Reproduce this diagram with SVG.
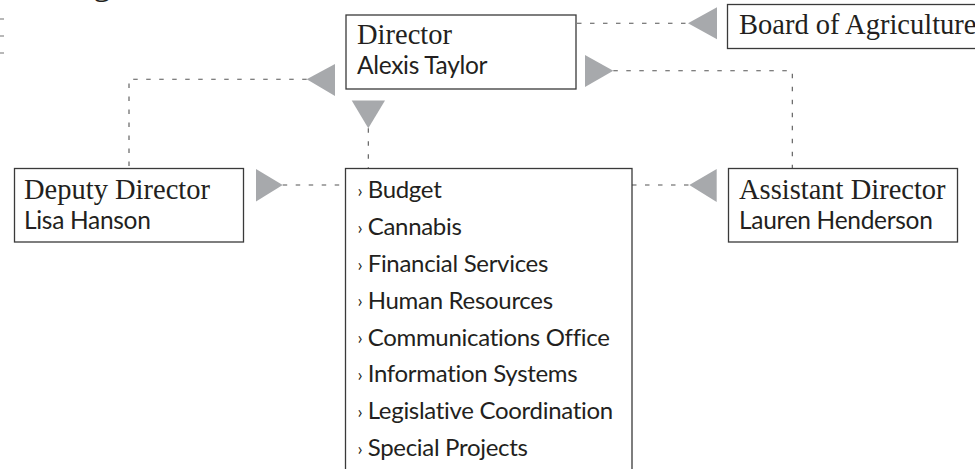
<svg xmlns="http://www.w3.org/2000/svg" width="975" height="469" viewBox="0 0 975 469">
<style>
.box{fill:#fff;stroke:#3a3a3a;stroke-width:1.3}
.title{font-family:"Liberation Serif","Times New Roman",serif;font-size:28.5px;fill:#231f20}
.name{font-family:Lato,"Liberation Sans",sans-serif;font-size:24.5px;letter-spacing:-0.3px;fill:#231f20}
.item{font-family:Lato,"Liberation Sans",sans-serif;font-size:24px;letter-spacing:-0.3px;fill:#231f20}
.chev{font-family:Lato,"Liberation Sans",sans-serif;font-size:18px;fill:#231f20}
.dot{fill:none;stroke:#555;stroke-width:1.1;stroke-dasharray:4.5 8.5}
.tri{fill:#a7a9ac}
.tick{stroke:#888;stroke-width:1.2}
</style>
<g id="fragments">
<text x="93" y="-6" style="font-family:'Liberation Serif',serif;font-size:36px;fill:#231f20">g</text>
<line class="tick" x1="0" y1="19" x2="4" y2="19"/>
<line class="tick" x1="0" y1="36" x2="4" y2="36"/>
<line class="tick" x1="0" y1="53" x2="4" y2="53"/>
</g>
<g id="connectors">
<path class="dot" d="M577,23.3 H688"/>
<polygon class="tri" points="688,23.3 717,7.3 717,39.3"/>
<path class="dot" d="M306.7,79.3 H129 V168"/>
<polygon class="tri" points="306.7,79.3 335,64 335,96"/>
<path class="dot" d="M368.3,128.3 V168"/>
<polygon class="tri" points="351.7,100.5 385,100.5 368.3,128.3"/>
<path class="dot" d="M613.3,70.7 H792.3 V168"/>
<polygon class="tri" points="585,55 613.3,70.7 585,87"/>
<path class="dot" d="M282.7,185 H345"/>
<polygon class="tri" points="256,169 282.7,185 256,201.5"/>
<path class="dot" d="M632,185 H689.3"/>
<polygon class="tri" points="689.3,185 716.7,169 716.7,202"/>
</g>
<g id="director">
<rect class="box" x="346" y="15" width="230" height="74"/>
<text class="title" x="357" y="43.5">Director</text>
<text class="name" x="357" y="74">Alexis Taylor</text>
</g>
<g id="board">
<rect class="box" x="727.5" y="4.5" width="270" height="44"/>
<text class="title" x="739" y="33.5">Board of Agriculture</text>
</g>
<g id="deputy">
<rect class="box" x="14.5" y="168.5" width="229" height="73.5"/>
<text class="title" x="24" y="199.3">Deputy Director</text>
<text class="name" x="24" y="229.3">Lisa Hanson</text>
</g>
<g id="assistant">
<rect class="box" x="728.5" y="168.5" width="229" height="73.5"/>
<text class="title" x="739" y="199.3">Assistant Director</text>
<text class="name" x="739" y="229.3">Lauren Henderson</text>
</g>
<g id="units">
<rect class="box" x="345.5" y="168.5" width="286.5" height="320"/>
<g class="chev">
<text x="357.5" y="197">›</text>
<text x="357.5" y="233.8">›</text>
<text x="357.5" y="270.6">›</text>
<text x="357.5" y="307.4">›</text>
<text x="357.5" y="344.2">›</text>
<text x="357.5" y="381">›</text>
<text x="357.5" y="417.8">›</text>
<text x="357.5" y="454.6">›</text>
</g>
<g class="item">
<text x="367.7" y="198.3">Budget</text>
<text x="367.7" y="235.1">Cannabis</text>
<text x="367.7" y="271.9">Financial Services</text>
<text x="367.7" y="308.7">Human Resources</text>
<text x="367.7" y="345.5">Communications Office</text>
<text x="367.7" y="382.3">Information Systems</text>
<text x="367.7" y="419.1">Legislative Coordination</text>
<text x="367.7" y="455.9">Special Projects</text>
</g>
</g>
</svg>
